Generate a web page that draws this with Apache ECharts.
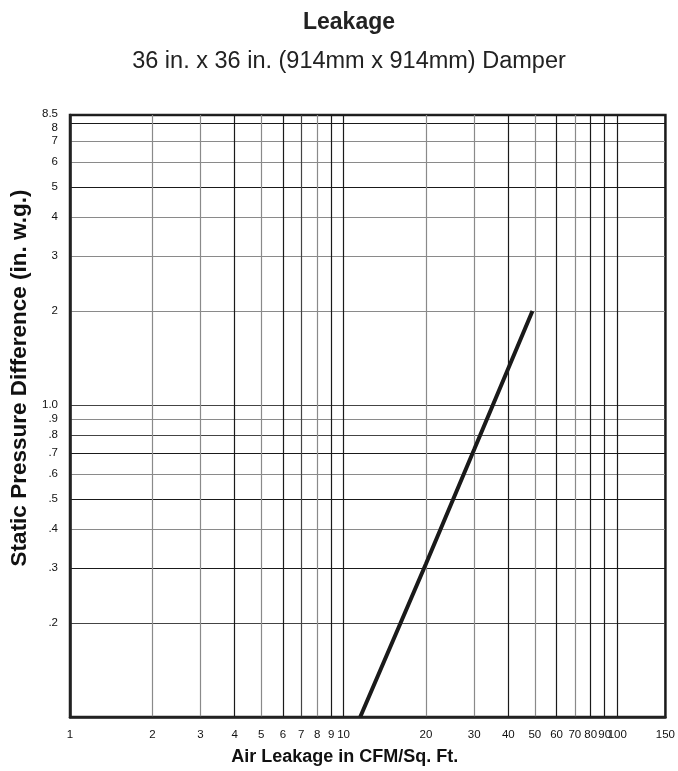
<!DOCTYPE html>
<html>
<head>
<meta charset="utf-8">
<script src="https://cdn.jsdelivr.net/npm/echarts@6/dist/echarts.min.js"></script>
<style>
html,body{margin:0;padding:0;background:#fff;}
#chart{width:678px;height:771px;}
</style>
</head>
<body>
<div id="chart"></div>
<script>
// ---- Data ----
var titleText = 'Leakage';
var subtitleText = '36 in. x 36 in. (914mm x 914mm) Damper';
var xAxisTitle = 'Air Leakage in CFM/Sq. Ft.';
var yAxisTitle = 'Static Pressure Difference (in. w.g.)';

var xTickValues = [1,2,3,4,5,6,7,8,9,10,20,30,40,50,60,70,80,90,100,150];
var xTickLabels = ['1','2','3','4','5','6','7','8','9','10','20','30','40','50','60','70','80','90','100','150'];

var yGridValues = [0.1,0.2,0.3,0.4,0.5,0.6,0.7,0.8,0.9,1,2,3,4,5,6,7,8,8.5];
var yLabelValues = [0.2,0.3,0.4,0.5,0.6,0.7,0.8,0.9,1,2,3,4,5,6,7,8,8.5];
var yTickLabels = ['.2','.3','.4','.5','.6','.7','.8','.9','1.0','2','3','4','5','6','7','8','8.5'];

// leakage curve: [CFM/sq.ft, in. w.g.]
var leakageX = [11.5, 20, 30, 49];
var leakageY = [0.1, 0.31, 0.72, 2];

// ---- Styles ----
var G = '#8a8a8a', B = '#1a1a1a', D = '#444444';
var xGridColors = [B,G,G,B,G,B,D,G,B,B,G,G,B,G,B,G,B,B,B,B];
var yGridColors = [B,D,B,G,B,G,B,D,G,D,G,G,G,B,G,G,B,B];

function nearestIndex(vals, v) {
  var best = 0, bd = Infinity;
  for (var i = 0; i < vals.length; i++) {
    var d = Math.abs(Math.log(v) - Math.log(vals[i]));
    if (d < bd) { bd = d; best = i; }
  }
  return best;
}

var lineData = leakageX.map(function (x, i) { return [x, leakageY[i]]; });

var chart = echarts.init(document.getElementById('chart'));
var font = '"Liberation Sans", Arial, Helvetica, sans-serif';
chart.setOption({
  backgroundColor: '#fff',
  animation: false,
  title: [
    { text: titleText, left: 344, top: 6, textAlign: 'center',
      textStyle: { fontFamily: font, fontSize: 23, fontWeight: 'bold', color: '#222' } },
    { text: subtitleText, left: 344, top: 45, textAlign: 'center',
      textStyle: { fontFamily: font, fontSize: 23.5, fontWeight: 'normal', color: '#222' } }
  ],
  grid: { left: 70, right: 10, top: 115, bottom: 49, show: true,
          borderColor: '#222', borderWidth: 2.5, backgroundColor: 'transparent' },
  xAxis: {
    type: 'log', logBase: 10, min: 1, max: 150,
    name: xAxisTitle, nameLocation: 'middle', nameGap: 31,
    nameTextStyle: { fontFamily: font, fontSize: 18, fontWeight: 'bold', color: '#111', padding: [0, 46, 0, 0] },
    axisLine: { show: true, lineStyle: { color: '#222', width: 2.5 } },
    axisTick: { show: false, customValues: xTickValues },
    axisLabel: { customValues: xTickValues,
                 formatter: function (v) { return xTickLabels[nearestIndex(xTickValues, v)]; },
                 fontFamily: font, fontSize: 11.5, color: '#111', margin: 12, hideOverlap: false,
                 showMinLabel: true, showMaxLabel: true },
    splitLine: { show: true, lineStyle: { color: xGridColors, width: 1.2 } },
    minorTick: { show: false }, minorSplitLine: { show: false }
  },
  yAxis: {
    type: 'log', logBase: 10, min: 0.1, max: 8.5,
    name: yAxisTitle, nameLocation: 'middle', nameGap: 37, nameRotate: 90,
    nameTextStyle: { fontFamily: font, fontSize: 22.5, fontWeight: 'bold', color: '#111', padding: [0, 0, 0, 76] },
    axisLine: { show: true, lineStyle: { color: '#222', width: 2.5 } },
    axisTick: { show: false, customValues: yGridValues },
    axisLabel: { customValues: yLabelValues,
                 formatter: function (v) {
                   var i = nearestIndex(yLabelValues, v);
                   var s = yTickLabels[i];
                   if (i === yLabelValues.length - 2) return '{lo|' + s + '}';
                   if (i === yLabelValues.length - 1) return '{hi|' + s + '}';
                   return s;
                 },
                 rich: {
                   lo: { fontFamily: font, fontSize: 11.5, color: '#111', padding: [10, 0, 0, 0] },
                   hi: { fontFamily: font, fontSize: 11.5, color: '#111', padding: [0, 0, 2, 0] }
                 },
                 fontFamily: font, fontSize: 11.5, color: '#111', margin: 12, hideOverlap: false,
                 showMinLabel: true, showMaxLabel: true },
    splitLine: { show: true, lineStyle: { color: yGridColors, width: 1.2 } },
    minorTick: { show: false }, minorSplitLine: { show: false }
  },
  series: [{
    type: 'line', data: lineData, showSymbol: false, symbol: 'none',
    lineStyle: { color: '#1a1a1a', width: 4, cap: 'butt' }, z: 5
  }]
});
</script>
</body>
</html>
